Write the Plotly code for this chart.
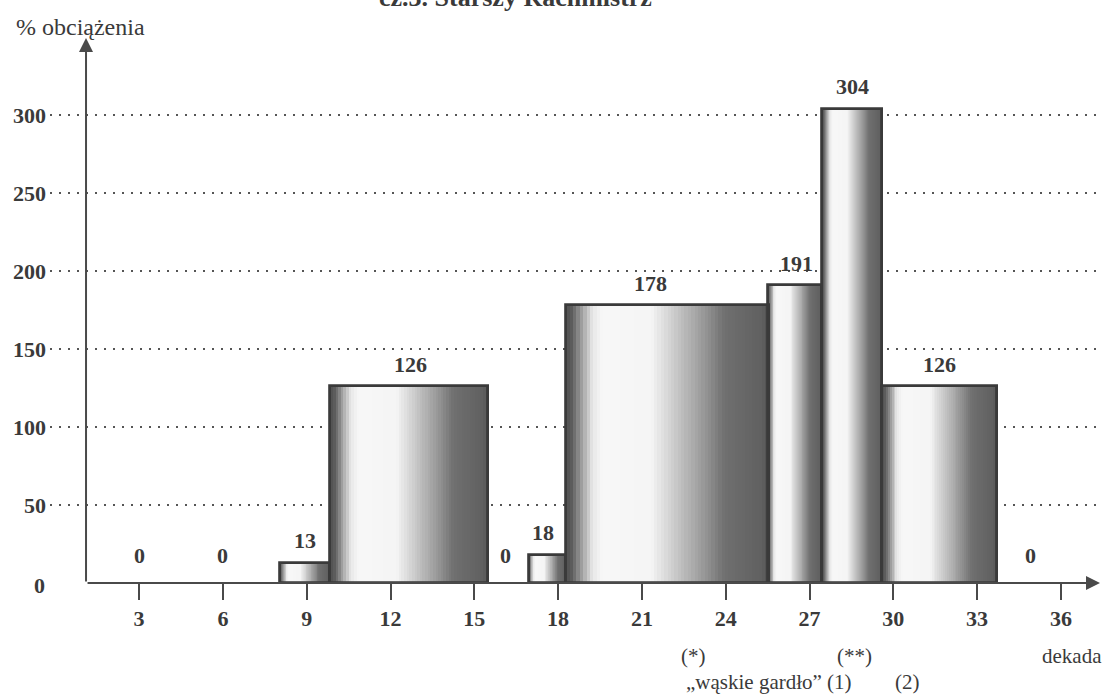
import numpy as np
import plotly.graph_objects as go

# Obciążenie stanowiska w kolejnych dekadach (odcinki od-do, wartość w %)
bar_start = [8.05, 9.85, 16.95, 18.3, 25.5, 27.45, 29.6]
bar_end = [9.85, 15.5, 18.3, 25.55, 27.45, 29.6, 33.7]
obciazenie = [13, 126, 18, 178, 191, 304, 126]
label_x = [8.95, 12.7, 17.45, 21.3, 26.55, 28.55, 31.65]

# Dekady z zerowym obciążeniem
zero_dekady = [3, 6, 16.1, 34.9]
zero_values = [0, 0, 0, 0]

x_ticks = [3, 6, 9, 12, 15, 18, 21, 24, 27, 30, 33, 36]
y_ticks = [0, 50, 100, 150, 200, 250, 300]

TITLE = "cz.3. Starszy Rachmistrz"
Y_TITLE = "% obciążenia"
X_TITLE = "dekada"

INK = "#3a3a3a"
SERIF = "Liberation Serif, Times New Roman, serif"

# profil cieniowania "walca" w poprzek słupka (0 = lewa krawędź, 1 = prawa)
shade_t = [0, .03, .08, .13, .18, .42, .5, .6, .7, .78, .9, .97, 1]
shade_g = [80, 95, 165, 232, 248, 245, 215, 180, 145, 112, 102, 96, 80]
N_SLICES = 60

xs, ws, ys, cols = [], [], [], []
for s, e, v in zip(bar_start, bar_end, obciazenie):
    w = (e - s) / N_SLICES
    for i in range(N_SLICES):
        t = (i + 0.5) / N_SLICES
        g = int(np.interp(t, shade_t, shade_g))
        xs.append(s + (i + 0.5) * w)
        ws.append(w * 1.08)
        ys.append(v)
        cols.append(f"rgb({g},{g},{g})")

fig = go.Figure()
fig.add_trace(go.Bar(
    x=xs, y=ys, width=ws,
    marker=dict(color=cols, line=dict(width=0)),
    hoverinfo="skip", showlegend=False,
))
# obrys słupków
fig.add_trace(go.Bar(
    x=[(s + e) / 2 for s, e in zip(bar_start, bar_end)],
    y=obciazenie,
    width=[e - s for s, e in zip(bar_start, bar_end)],
    marker=dict(color="rgba(0,0,0,0)", line=dict(color="#3a3a3a", width=2.8)),
    hoverinfo="skip", showlegend=False,
))

annotations = []
num_font = dict(family=SERIF, size=22, color=INK)
for x, v in zip(label_x, obciazenie):
    annotations.append(dict(x=x, y=v, xref="x", yref="y", text=f"<b>{v}</b>",
                            showarrow=False, yanchor="middle", yshift=22, font=num_font))
for x, v in zip(zero_dekady, zero_values):
    annotations.append(dict(x=x, y=v, xref="x", yref="y", text=f"<b>{v}</b>",
                            showarrow=False, yanchor="middle", yshift=28, font=num_font))

# etykieta 0 na osi Y
annotations.append(dict(x=0, y=y_ticks[0], xref="paper", yref="y", text=f"<b>{y_ticks[0]}</b>",
                        showarrow=False, xanchor="right", yanchor="middle", xshift=-3, yshift=-2,
                        font=num_font))

AX_X = 1.1
X_MAX = 37.4
Y_MAX = 349.4
# osie ze strzałkami
annotations.append(dict(x=AX_X, y=Y_MAX, ax=AX_X, ay=0, xref="x", yref="y", axref="x", ayref="y",
                        text="", showarrow=True, arrowhead=2, arrowsize=1.4, arrowwidth=2,
                        arrowcolor="#4a4a4a", standoff=0, startstandoff=0))
annotations.append(dict(x=X_MAX, y=0, ax=AX_X, ay=0, xref="x", yref="y", axref="x", ayref="y",
                        text="", showarrow=True, arrowhead=2, arrowsize=1.4, arrowwidth=2,
                        arrowcolor="#4a4a4a", standoff=0, startstandoff=0))

# tytuł (u samej górnej krawędzi strony)
annotations.append(dict(x=16.46, y=1, xref="x", yref="paper", text=f"<b>{TITLE}</b>",
                        showarrow=False, yanchor="middle", yshift=41,
                        font=dict(family=SERIF, size=26, color=INK)))
annotations.append(dict(x=0.89, y=1, xref="x", yref="paper", text=Y_TITLE,
                        showarrow=False, yanchor="middle", yshift=11,
                        font=dict(family=SERIF, size=24, color=INK)))

# podpisy pod osią X (współrzędne papieru, poniżej obszaru wykresu)
annotations.append(dict(x=36.4, y=-0.134, xref="x", yref="paper", text=X_TITLE,
                        showarrow=False, yanchor="middle",
                        font=dict(family=SERIF, size=21, color=INK)))
note_font = dict(family=SERIF, size=21, color=INK)
annotations.append(dict(x=22.85, y=-0.134, xref="x", yref="paper", text="(*)",
                        showarrow=False, yanchor="middle", font=note_font))
annotations.append(dict(x=28.6, y=-0.134, xref="x", yref="paper", text="(**)",
                        showarrow=False, yanchor="middle", font=note_font))
annotations.append(dict(x=22.5, y=-0.182, xref="x", yref="paper", text="„wąskie gardło” (1)",
                        showarrow=False, xanchor="left", yanchor="middle", font=note_font))
annotations.append(dict(x=30.5, y=-0.182, xref="x", yref="paper", text="(2)",
                        showarrow=False, yanchor="middle", font=note_font))

fig.update_layout(
    width=1109, height=699,
    margin=dict(l=50, r=9, t=38, b=116),
    paper_bgcolor="white", plot_bgcolor="white",
    barmode="overlay", bargap=0,
    showlegend=False,
    annotations=annotations,
    xaxis=dict(
        range=[-0.19, X_MAX], tickvals=x_ticks, ticktext=[f"<b>{t}</b>" for t in x_ticks],
        ticks="outside", ticklen=16, tickwidth=2, tickcolor="#4a4a4a",
        showgrid=False, zeroline=False, showline=False,
        tickfont=dict(family=SERIF, size=22, color=INK),
    ),
    yaxis=dict(
        range=[0, Y_MAX], tickvals=y_ticks[1:], ticktext=[f"<b>{t}</b>" for t in y_ticks[1:]],
        ticks="", showgrid=True, gridcolor="#555555", gridwidth=2, griddash="2px,7px",
        zeroline=False, showline=False, ticklabelstandoff=3,
        tickfont=dict(family=SERIF, size=22, color=INK),
    ),
)

fig.write_html("out.html")
